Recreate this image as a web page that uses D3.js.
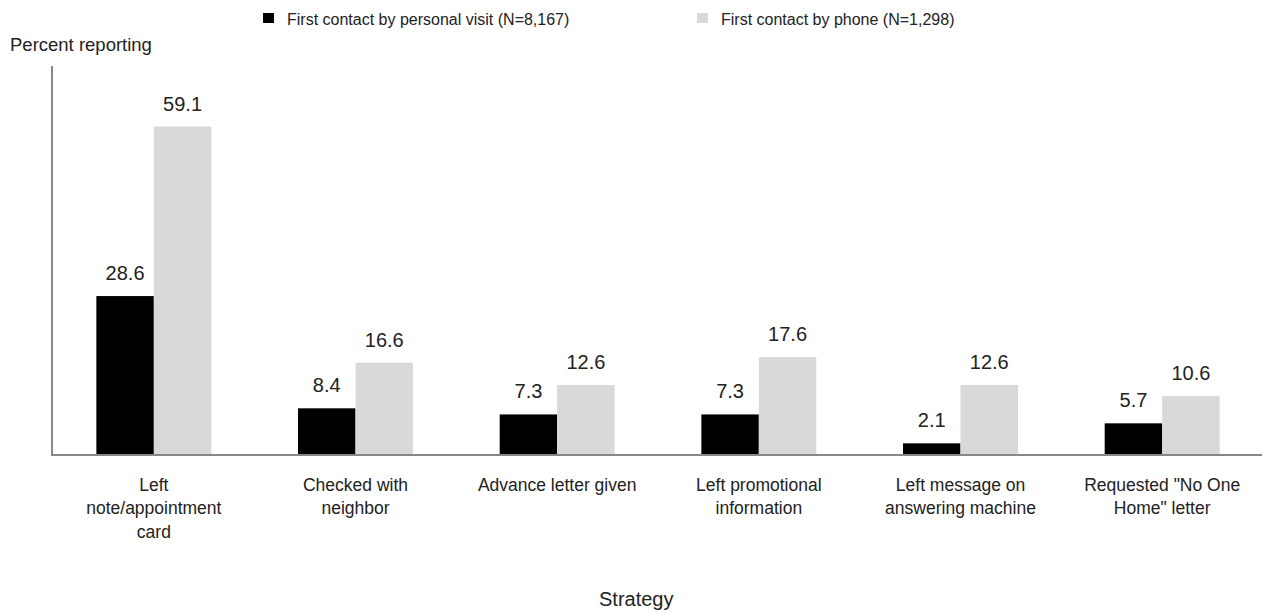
<!DOCTYPE html>
<html>
<head>
<meta charset="utf-8">
<script src="https://cdn.jsdelivr.net/npm/d3@7"></script>
<style>
  html, body { margin: 0; padding: 0; background: #fff; }
  svg { display: block; font-family: "Liberation Sans", Arial, sans-serif; }
</style>
</head>
<body>
<svg id="chart" width="1262" height="612"></svg>
<script>
// Strategies used when no one was home, by mode of first contact
const categories = [
  ["Left", "note/appointment", "card"],
  ["Checked with", "neighbor"],
  ["Advance letter given"],
  ["Left promotional", "information"],
  ["Left message on", "answering machine"],
  ["Requested \"No One", "Home\" letter"]
];
const seriesNames = [
  "First contact by personal visit (N=8,167)",
  "First contact by phone (N=1,298)"
];
const personalVisit = [28.6, 8.4, 7.3, 7.3, 2.1, 5.7];
const phone = [59.1, 16.6, 12.6, 17.6, 12.6, 10.6];
const seriesColors = ["#000000", "#d9d9d9"];

const svg = d3.select("#chart");
const textColor = "#222";

const x0 = d3.scaleBand()
  .domain(d3.range(categories.length))
  .range([53, 1263])
  .paddingInner(0.43)
  .paddingOuter(0.215);

const x1 = d3.scaleBand()
  .domain([0, 1])
  .range([0, x0.bandwidth()]);

const y = d3.scaleLinear().domain([0, 70]).range([455, 66]);

const seriesValues = [personalVisit, phone];
const rows = categories.map((c, i) => ({ i, vals: seriesValues.map(s => s[i]) }));

// Bars
const groups = svg.append("g").selectAll("g")
  .data(rows).join("g")
  .attr("transform", d => `translate(${x0(d.i)},0)`);

groups.selectAll("rect")
  .data(d => d.vals.map((v, k) => ({ v, k })))
  .join("rect")
  .attr("x", d => x1(d.k))
  .attr("y", d => y(d.v))
  .attr("width", x1.bandwidth())
  .attr("height", d => y(0) - y(d.v))
  .attr("fill", d => seriesColors[d.k]);

// Value labels
groups.selectAll("text")
  .data(d => d.vals.map((v, k) => ({ v, k })))
  .join("text")
  .attr("x", d => x1(d.k) + x1.bandwidth() / 2)
  .attr("y", d => y(d.v) - 16)
  .attr("text-anchor", "middle")
  .attr("font-size", 20)
  .attr("fill", textColor)
  .text(d => d.v.toFixed(1));

// Axes
svg.append("line")
  .attr("x1", 52).attr("x2", 52)
  .attr("y1", y(70)).attr("y2", y(0) + 1)
  .attr("stroke", "#888").attr("stroke-width", 2);
svg.append("line")
  .attr("x1", 51).attr("x2", 1262)
  .attr("y1", y(0)).attr("y2", y(0))
  .attr("stroke", "#888").attr("stroke-width", 2);

// Category labels
const catLabels = svg.append("g").selectAll("text")
  .data(categories).join("text")
  .attr("text-anchor", "middle")
  .attr("font-size", 17.5)
  .attr("fill", textColor)
  .attr("transform", (d, i) => `translate(${x0(i) + x0.bandwidth() / 2},490.5)`);
catLabels.selectAll("tspan")
  .data(d => d).join("tspan")
  .attr("x", 0)
  .attr("y", (d, j) => j * 23.5)
  .text(d => d);

// Axis titles
svg.append("text")
  .attr("x", 10).attr("y", 51)
  .attr("font-size", 18.5)
  .attr("fill", textColor)
  .text("Percent reporting");
svg.append("text")
  .attr("x", 599).attr("y", 606)
  .attr("font-size", 20)
  .attr("fill", textColor)
  .text("Strategy");

// Legend
const legendX = [263, 697];
const legend = svg.append("g").selectAll("g")
  .data(seriesNames).join("g")
  .attr("transform", (d, i) => `translate(${legendX[i]},13)`);
legend.append("rect")
  .attr("width", 11).attr("height", 10)
  .attr("fill", (d, i) => seriesColors[i]);
legend.append("text")
  .attr("x", 24).attr("y", 12)
  .attr("font-size", 16)
  .attr("fill", textColor)
  .text(d => d);
</script>
</body>
</html>
